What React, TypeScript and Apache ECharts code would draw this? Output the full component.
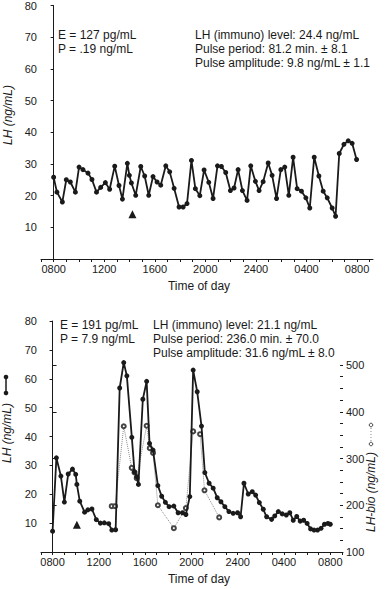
import React, { useEffect, useRef } from 'react';
import * as echarts from 'echarts';

// ---------- data (hours after 0800) ----------
const topTimes = [0.00,0.26,0.69,1.00,1.32,1.72,2.01,2.32,2.72,3.03,3.39,3.72,4.09,4.43,4.83,5.17,5.44,5.83,5.99,6.15,6.49,6.89,7.20,7.52,7.86,8.18,8.47,8.87,9.18,9.53,9.92,10.24,10.55,10.90,11.21,11.56,11.90,12.27,12.61,12.96,13.27,13.61,13.98,14.27,14.59,14.93,15.30,15.59,15.96,16.25,16.57,16.97,17.28,17.63,17.97,18.28,18.60,18.94,19.26,19.60,19.95,20.26,20.61,20.98,21.32,21.64,22.03,22.30,22.59,22.96,23.30,23.61,23.96];
const topLH = [25.8,21.1,18.0,25.0,24.3,21.1,29.0,28.2,27.1,25.1,21.1,22.6,24.1,22.0,29.3,23.2,18.9,30.2,26.4,24.0,20.1,29.2,26.2,20.1,26.0,24.3,23.3,29.4,27.5,22.3,16.4,16.4,17.5,31.1,22.2,20.0,28.1,24.2,19.1,29.4,29.2,27.3,21.6,22.4,28.2,21.6,18.5,29.4,24.5,21.6,24.4,30.3,26.4,19.1,28.2,29.0,20.1,32.1,22.2,21.4,19.3,16.1,32.1,26.2,21.4,19.3,16.1,13.5,33.3,36.2,37.3,36.5,31.4];

const bottomTimes = [0,0.33,0.72,1.02,1.35,1.72,2.0,2.1,2.35,2.77,3.05,3.4,3.78,4.13,4.47,4.85,5.12,5.45,5.8,6.15,6.42,6.85,7.08,7.27,7.42,7.8,8.13,8.38,8.68,9.1,9.43,9.75,10.07,10.48,10.85,11.23,11.52,11.86,12.15,12.5,12.87,13.16,13.53,13.88,14.23,14.55,14.89,15.24,15.61,15.99,16.25,16.54,16.91,17.26,17.55,17.87,18.21,18.5,18.93,19.2,19.51,19.85,20.2,20.5,20.8,21.1,21.4,21.7,22.0,22.3,22.6,22.9,23.2,23.5,23.8,24.0];
const bottomLH = [7.2,32.6,26.3,17.3,27.0,28.7,26.9,23.4,17.6,13.8,14.6,14.9,11.2,10.0,10.1,9.8,7.6,7.7,56.8,65.6,61.0,39.7,27.8,26.1,23.4,52.9,59.1,37.6,35.3,23.0,19.3,17.2,15.7,15.9,13.6,13.6,13.0,19.2,63.0,55.5,43.6,27.5,23.8,22.1,18.8,17.4,15.7,14.0,13.4,13.6,12.2,23.8,20.1,20.9,19.7,17.1,14.8,12.2,11.3,12.5,14.0,13.2,12.8,13.6,11.0,12.3,10.7,11.0,9.9,8.0,7.6,7.6,8.2,9.6,9.9,9.6];

const bioTimes = [5.11,5.4,6.15,6.84,7.08,7.27,8.13,8.4,8.68,9.1,10.48,11.52,12.15,12.75,13.13,14.4];
const bioLH = [198,198,369,280,270,258,370,322,312,200,151,194,358,352,232,174];

const topArrow = [6.23, 14.1];
const bottomArrow = [2.1, 9.4];

const hourTicks = [-1,0,1,2,3,4,5,6,7,8,9,10,11,12,13,14,15,16,17,18,19,20,21,22,23,24,25];
const labelHours = [0, 4, 8, 12, 16, 20, 24];
const timeLabels = ['0800', '1200', '1600', '2000', '2400', '0400', '0800'];

const topNotesLeft = ['E = 127 pg/mL', 'P = .19 ng/mL'];
const topNotesRight = ['LH (immuno) level: 24.4 ng/mL', 'Pulse period: 81.2 min. \u00b1 8.1', 'Pulse amplitude: 9.8 ng/mL \u00b1 1.1'];
const bottomNotesLeft = ['E = 191 pg/mL', 'P = 7.9 ng/mL'];
const bottomNotesRight = ['LH (immuno) level: 21.1 ng/mL', 'Pulse period: 236.0 min. \u00b1 70.0', 'Pulse amplitude: 31.6 ng/mL \u00b1 8.0'];

const INK = '#1a1a1a';
const FONT = '"Liberation Sans", Arial, Helvetica, sans-serif';

const pairs = (xs: number[], ys: number[]) => xs.map((x, i) => [x, ys[i]]);

function xAxisCfg(gridIndex: number, max: number, show: boolean, padding: number[]) {
  return {
    type: 'value', gridIndex, min: -1, max, show,
    axisLine: { show: true, lineStyle: { color: INK, width: 1 } },
    axisTick: { show: true, customValues: hourTicks, length: 3, lineStyle: { color: INK, width: 1 } },
    axisLabel: {
      show: true, customValues: labelHours,
      formatter: (v: number) => { const k = labelHours.indexOf(Math.round(v)); return k >= 0 ? timeLabels[k] : ''; },
      fontSize: 11, color: INK, margin: 4, fontFamily: FONT,
    },
    splitLine: { show: false },
    name: show ? 'Time of day' : '', nameLocation: 'middle', nameGap: 21,
    nameTextStyle: { fontSize: 12, color: INK, fontFamily: FONT, padding },
  };
}

function lhAxisCfg(gridIndex: number) {
  return {
    type: 'value', gridIndex, min: 0, max: 80, interval: 10, position: 'left',
    axisLine: { show: true, lineStyle: { color: INK, width: 1 } },
    axisTick: { show: true, length: 3, lineStyle: { color: INK } },
    axisLabel: { formatter: (v: number) => (v === 0 ? '' : String(v)), fontSize: 11, color: INK, margin: 4, fontFamily: FONT },
    splitLine: { show: false },
  };
}

function notes(lines: string[], x: number, y0: number) {
  return lines.map((t, i) => ({
    type: 'text', x, y: y0 + i * 14,
    style: { text: t, fill: INK, font: `12px ${FONT}`, textAlign: 'left', textVerticalAlign: 'middle' },
  }));
}

function vTitle(text: string, x: number, y: number) {
  return {
    type: 'text', x, y, rotation: Math.PI / 2,
    style: { text, fill: INK, font: `italic 12px ${FONT}`, textAlign: 'center', textVerticalAlign: 'middle' },
  };
}

export default function App() {
  const ref = useRef<HTMLDivElement>(null);
  useEffect(() => {
    if (!ref.current) return;
    const chart = echarts.init(ref.current, null, { renderer: 'svg' });
    const arrowMark = (coord: number[]) => ({
      symbol: 'triangle', symbolSize: [8, 8], silent: true,
      itemStyle: { color: INK }, label: { show: false },
      data: [{ coord }],
    });
    chart.setOption({
      animation: false,
      backgroundColor: '#ffffff',
      grid: [
        { left: 41, top: 4, width: 332, height: 255 },
        { left: 41, top: 321, width: 302, height: 231 },
        { left: 41, top: 365, width: 302, height: 187 },
      ],
      xAxis: [
        xAxisCfg(0, 25.26, true, [0, 16, 0, 0]),
        xAxisCfg(1, 25.1, true, [0, 0, 0, 14]),
        { ...xAxisCfg(2, 25.1, false, [0, 0, 0, 0]), show: false },
      ],
      yAxis: [
        lhAxisCfg(0),
        lhAxisCfg(1),
        {
          type: 'value', gridIndex: 2, min: 100, max: 500, interval: 100, position: 'right',
          axisLine: { show: true, lineStyle: { color: INK, width: 1 } },
          axisTick: { show: true, length: 4, lineStyle: { color: INK } },
          axisLabel: { fontSize: 11, color: INK, margin: 3, fontFamily: FONT },
          splitLine: { show: false },
        },
        {
          type: 'value', gridIndex: 2, min: 100, max: 500, interval: 25, position: 'right',
          axisLine: { show: false },
          axisTick: { show: true, inside: true, length: 3, lineStyle: { color: INK } },
          axisLabel: { show: false },
          splitLine: { show: false },
        },
      ],
      series: [
        {
          type: 'line', xAxisIndex: 0, yAxisIndex: 0, data: pairs(topTimes, topLH),
          symbol: 'circle', symbolSize: 5, lineStyle: { color: INK, width: 1.8 }, itemStyle: { color: INK },
          markPoint: arrowMark(topArrow), z: 3,
        },
        {
          type: 'line', xAxisIndex: 2, yAxisIndex: 2, data: pairs(bioTimes, bioLH),
          symbol: 'emptyCircle', symbolSize: 4, lineStyle: { color: '#8a8a8a', width: 1, type: 'dotted' },
          itemStyle: { color: '#444', borderWidth: 1 }, z: 2,
        },
        {
          type: 'line', xAxisIndex: 1, yAxisIndex: 1, data: pairs(bottomTimes, bottomLH),
          symbol: 'circle', symbolSize: 5, lineStyle: { color: INK, width: 1.8 }, itemStyle: { color: INK },
          markPoint: arrowMark(bottomArrow), z: 3,
        },
      ],
      graphic: [
        ...notes(topNotesLeft, 58, 35),
        ...notes(topNotesRight, 195, 35),
        ...notes(bottomNotesLeft, 60, 325),
        ...notes(bottomNotesRight, 153, 325),
        vTitle('LH (ng/mL)', 8, 115),
        vTitle('LH (ng/mL)', 7, 433),
        vTitle('LH-bio (ng/mL)', 371, 492),
        { type: 'line', shape: { x1: 6, y1: 377, x2: 6, y2: 393 }, style: { stroke: INK, lineWidth: 1.5 } },
        { type: 'circle', shape: { cx: 6, cy: 377, r: 2.3 }, style: { fill: INK } },
        { type: 'circle', shape: { cx: 6, cy: 393, r: 2.3 }, style: { fill: INK } },
        { type: 'line', shape: { x1: 371, y1: 425, x2: 371, y2: 444 }, style: { stroke: '#8a8a8a', lineWidth: 1, lineDash: [1, 2] } },
        { type: 'circle', shape: { cx: 371, cy: 425, r: 1.8 }, style: { fill: '#fff', stroke: '#444', lineWidth: 1 } },
        { type: 'circle', shape: { cx: 371, cy: 444, r: 1.8 }, style: { fill: '#fff', stroke: '#444', lineWidth: 1 } },
      ],
    });
    return () => chart.dispose();
  }, []);
  return <div ref={ref} style={{ position: 'absolute', left: 0, top: 0, width: 385, height: 589, background: '#fff' }} />;
}
